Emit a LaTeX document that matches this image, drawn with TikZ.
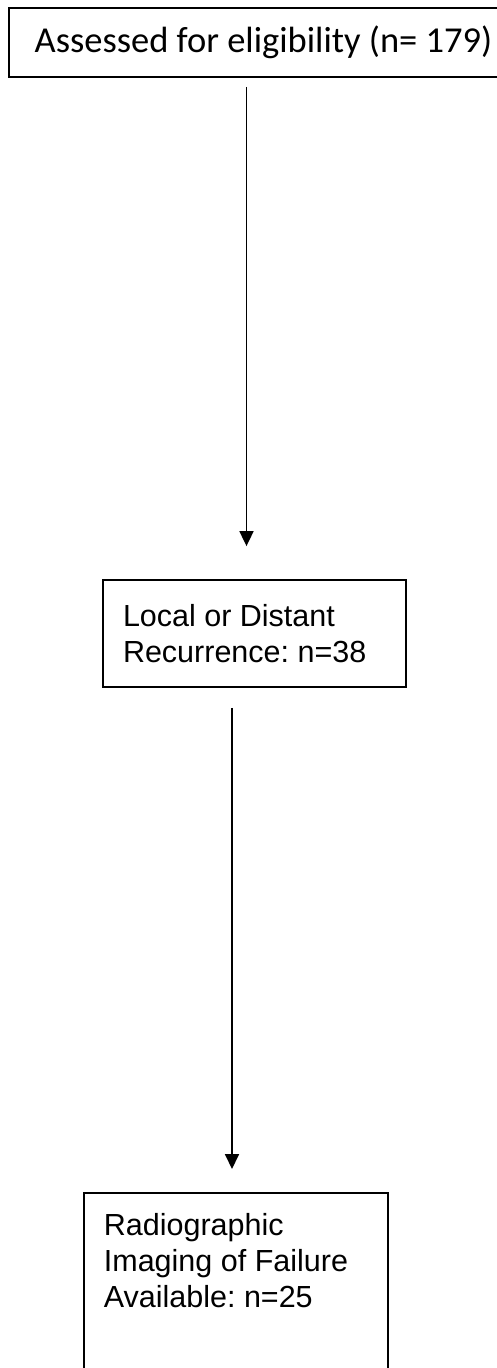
\documentclass[tikz,border=0pt]{standalone}
\usepackage{fontspec}
\setmainfont{Liberation Sans}
\newfontfamily\calibri{Carlito}
\usetikzlibrary{arrows.meta,calc}
\frenchspacing

\tikzset{
  flowbox/.style={draw, line width=1.8pt, align=flush left, inner xsep=20pt, font=\fontsize{30.5}{36}\selectfont},
  flowarrow/.style={line width=1.8pt, -{Triangle[length=15pt,width=14pt]}}
}

\begin{document}
\begin{tikzpicture}[x=1pt,y=-1pt]
    \useasboundingbox (0,0) rectangle (496,1368);
    \node[draw, line width=1.8pt, minimum width=509pt, minimum height=69pt, font=\calibri\fontsize{36.5}{40}\selectfont] (assessed) at (263.5,42.5) {Assessed for eligibility (n= 179)};
    \node[flowbox, text width=263pt, minimum height=107pt] (recur) at (254.5,633.5) {Local or Distant\\Recurrence: n=38};
    \node[flowbox, text width=264pt, anchor=north west, inner ysep=20pt, text depth=160pt] (imaging) at (83,1192) {Radiographic\\Imaging of Failure\\Available: n=25};
    \coordinate (a1) at (246.5,0);
    \coordinate (a2) at (232,0);
    \draw[flowarrow] ($(assessed.south -| a1)+(0,9)$) -- ($(recur.north -| a1)+(0,-33)$);
    \draw[flowarrow] ($(recur.south -| a2)+(0,20)$) -- ($(imaging.north -| a2)+(0,-23)$);
  \end{tikzpicture}
\end{document}
